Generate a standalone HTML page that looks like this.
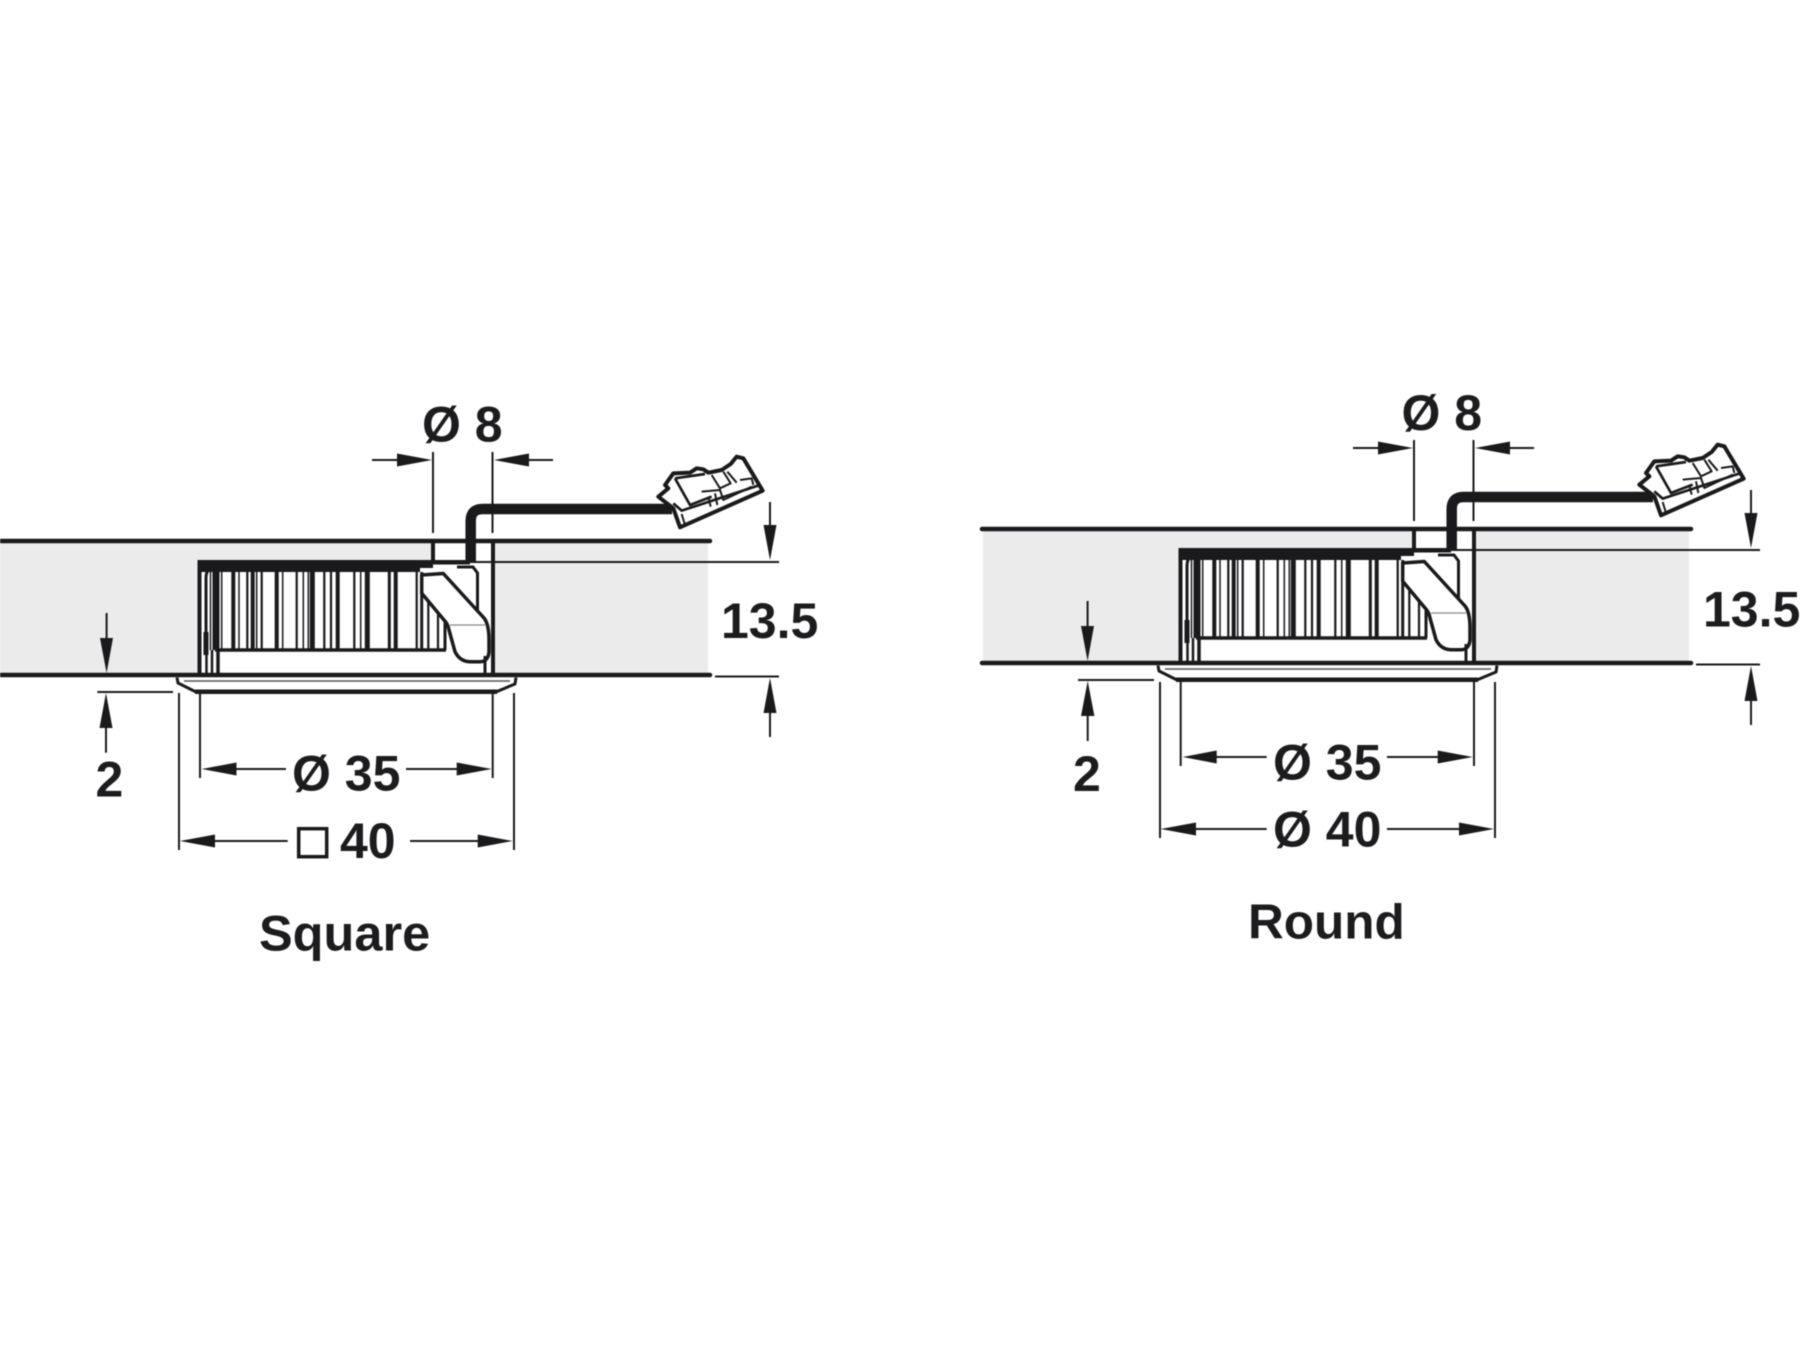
<!DOCTYPE html>
<html>
<head>
<meta charset="utf-8">
<style>
html,body{margin:0;padding:0;background:#fff}
svg{display:block;filter:blur(.4px)}
text{font-family:"Liberation Sans",Arial,sans-serif;font-weight:700;fill:#1c1c1e;font-size:50px}
</style>
</head>
<body>
<svg width="1800" height="1350" viewBox="0 0 1800 1350" xmlns="http://www.w3.org/2000/svg">
<defs>
<g id="fx" stroke="#1a1a1c" fill="none">
  <rect x="2" y="541" width="706" height="134" fill="#ebebeb" stroke="none"/>
  <rect x="433" y="541" width="60" height="22" fill="#fff" stroke="none"/>
  <rect x="198" y="560" width="295" height="115" fill="#fff" stroke="none"/>
  <path d="M1 541H710M1 675H710" stroke-width="4.5" stroke-linecap="round"/>
  <path d="M433 541V562" stroke-width="4"/>
  <path d="M493 541V675" stroke-width="4"/>
  <path d="M199.5 560V675" stroke-width="4"/>
  <rect x="198" y="560" width="222" height="12" fill="#1a1a1c" stroke="none"/>
  <rect x="420" y="560" width="13" height="8" fill="#1a1a1c" stroke="none"/>
  <rect x="433" y="560" width="37" height="4.5" fill="#1a1a1c" stroke="none"/>
  <path d="M206 650V578Q206 567 216 567" stroke-width="3"/>
  <path d="M216 571V650" stroke-width="7"/>
  <path d="M210.5 572V650" stroke-width="1.5"/>
  <path d="M206 632V655" stroke-width="5"/>
  <path d="M206.5 650V675M212 650V675" stroke-width="2.5"/>
  <path d="M218 650V675" stroke-width="3.5"/>
  <path d="M215 650H446" stroke-width="3.5"/>
  <path d="M221.7 572V650M239 572V650M256.7 572V650M282.7 572V650M303.3 572V650M308.3 572V650M360.7 572V650" stroke-width="1.5"/>
  <path d="M247.3 572V650M261.7 572V650M296.7 572V650M324.3 572V650M331 572V650M354.3 572V650M416.7 572V650M428.3 600V650M438 612V650" stroke-width="2.2"/>
  <path d="M389.3 572V650M421.7 572V650M445 620V650" stroke-width="3"/>
  <path d="M233.3 572V650M252.7 572V650M276.7 572V650M337.7 572V650M395.7 572V650" stroke-width="4"/>
  <path d="M312.3 572V650M367.3 572V650" stroke-width="5"/>
  <path d="M457 567H473L477.5 573V612" stroke-width="3"/>
  <path d="M421.7 575L443.3 573.5L484 618Q489 624 489 640V652Q488 661.7 480 661.7H470Q460 661.7 455 651.7L449 630Q448 624 444 620L421.7 593.3Z" fill="#fff" stroke-width="3.5" stroke-linejoin="round"/>
  <path d="M450 625H485" stroke="#888" stroke-width="1.3"/>
  <path d="M485 656V675" stroke-width="3"/>
  <path d="M177 677.5L178 683L195 691.5H497L515 684L516 677.5" stroke-width="3" fill="#fff"/>
  <path d="M195 691.7H497" stroke-width="4.5"/>
  <path d="M184 681H510" stroke="#555" stroke-width="1.5"/>
  <path d="M470.7 563V521Q470.7 509 482.7 509H672" stroke-width="10.5"/>
  <g transform="translate(640 440) scale(.33333)" stroke-width="12" stroke-linejoin="round">
    <path d="M120 262L368 152L310 55L290 50L272 72L245 90L205 98L190 88L170 85L150 98L100 100L75 135L85 145L55 170L100 205Z" fill="#fff"/>
    <path d="M105 115L150 195L215 170M105 115L195 102M100 190L125 212L360 135" stroke-width="8" fill="none"/>
    <path d="M185 155L240 150L250 180L335 140M205 170L212 200M225 160L232 195M215 105L240 145L272 130L250 95M262 95L290 128M300 120L335 115L340 135" stroke-width="6" fill="none"/>
    <path d="M125 222L135 255" stroke-width="6"/>
  </g>
  <path d="M433 452V533M492.5 452V533" stroke-width="2"/>
  <path d="M372 460H400M525 460H553" stroke-width="2"/>
  <path d="M457 562H779M715 676.5H779" stroke-width="2"/>
  <path d="M770 502V525M770 712V737" stroke-width="2"/>
  <path d="M106.6 613V640" stroke-width="2"/>
</g>
<g id="fa" fill="#1a1a1c">
  <polygon points="432,460 397,453.5 397,466.5"/>
  <polygon points="494,460 529,453.5 529,466.5"/>
  <polygon points="770,560 763.5,525 776.5,525"/>
  <polygon points="770,678 763.5,713 776.5,713"/>
  <polygon points="106.6,673 100,638 113,638"/>
</g>
</defs>

<rect width="1800" height="1350" fill="#fff"/>
<rect x="0" y="541" width="3" height="134" fill="#ebebeb"/>

<use href="#fx"/>
<use href="#fa"/>
<text x="422" y="441.7">Ø 8</text>
<text x="721" y="638">13.5</text>

<g stroke="#1a1a1c" fill="none" stroke-width="2">
  <path d="M179 693V850M514 693V850M200 692V778M492.7 692V778"/>
  <path d="M97.3 692H173"/>
  <path d="M106 725V752.7"/>
  <path d="M236 769H286M406 769H457"/>
  <path d="M215 841H287.7M410 841H478"/>
  <rect x="298.7" y="828.7" width="28" height="28" stroke-width="3.5"/>
</g>
<g fill="#1a1a1c">
  <polygon points="106,693 99.5,728 112.5,728"/>
  <polygon points="201.7,769 236.5,762.5 236.5,775.5"/>
  <polygon points="491.7,769 456.7,762.5 456.7,775.5"/>
  <polygon points="180,841 215,834.5 215,847.5"/>
  <polygon points="512.7,841 477.7,834.5 477.7,847.5"/>
</g>
<text x="95.5" y="796.7">2</text>
<text x="292" y="790.7">Ø 35</text>
<text x="340" y="858">40</text>
<text x="259" y="950.7" style="font-size:50.5px">Square</text>

<g transform="translate(981 -12)">
  <use href="#fx"/>
  <use href="#fa"/>
</g>
<text x="1401.5" y="430">Ø 8</text>
<text x="1703" y="626.7">13.5</text>

<g stroke="#1a1a1c" fill="none" stroke-width="2">
  <path d="M1160 682V838M1495 682V838M1180.7 680V766M1474 680V766"/>
  <path d="M1078 680H1154"/>
  <path d="M1087.7 713V741"/>
  <path d="M1216 757H1266.7M1387 757H1438"/>
  <path d="M1196 829H1266.7M1387 829H1459"/>
</g>
<g fill="#1a1a1c">
  <polygon points="1087.7,681 1081,716 1094.4,716"/>
  <polygon points="1182.7,757 1216.7,750.5 1216.7,763.5"/>
  <polygon points="1472.7,757 1437.7,750.5 1437.7,763.5"/>
  <polygon points="1160.7,829 1196,822.5 1196,835.5"/>
  <polygon points="1494,829 1459,822.5 1459,835.5"/>
</g>
<text x="1073" y="791">2</text>
<text x="1273" y="779.3">Ø 35</text>
<text x="1273" y="846.7">Ø 40</text>
<text x="1248" y="938.3" style="font-size:49.5px">Round</text>
</svg>
</body>
</html>
